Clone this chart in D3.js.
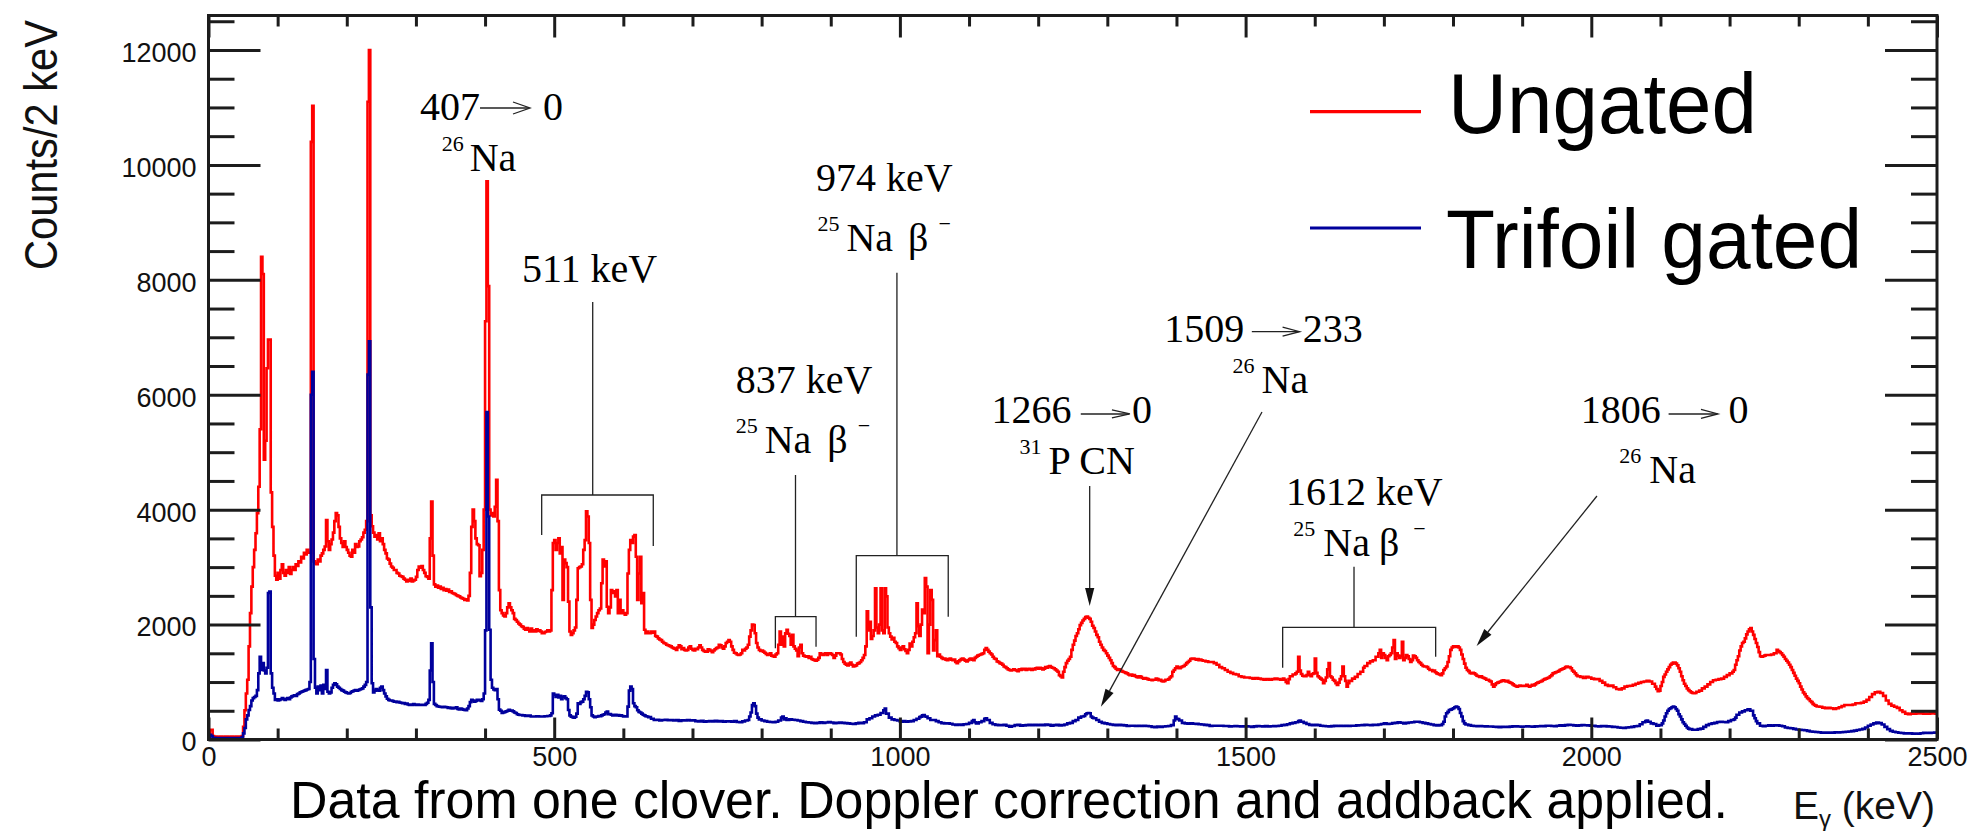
<!DOCTYPE html>
<html>
<head>
<meta charset="utf-8">
<script src="https://cdn.jsdelivr.net/npm/d3@7"></script>
<style>
  body { margin: 0; background: #fff; }
  svg { display: block; }
</style>
</head>
<body>
<svg id="chart" width="1972" height="831"></svg>
<script>
// Gamma-ray spectra, one clover detector, 2 keV bins: [bin low edge (keV), counts]
const ungated = [
[0,60],[2,160],[4,170],[6,60],[8,50],[12,45],[16,50],[20,45],[24,50],[28,45],[32,50],[36,45],[40,50],[44,45],[48,60],
[50,220],[52,510],[54,800],[56,1040],[58,1620],[60,2200],[62,2660],[64,3000],[66,3300],[68,3590],[70,3940],[72,4400],[74,5400],
[76,8400],[78,8100],[80,4870],[82,5200],[84,6460],[86,6960],[88,6960],[90,4300],[92,3700],[94,3200],[96,2850],[98,2780],
[100,2900],[102,2800],[104,2950],[106,3050],[108,2900],[110,2850],[112,2950],[114,2900],[116,3000],[118,2880],[120,2950],[122,3000],
[124,2950],[126,3050],[128,3020],[130,3100],[132,3080],[134,3180],[136,3150],[138,3250],[140,3220],[142,3300],[144,3250],[146,3250],
[148,10400],[150,11030],[152,3100],[154,3070],[156,3050],[158,3130],[160,3100],[162,3200],[164,3240],[166,3300],[168,3360],[170,3820],
[172,3450],[174,3300],[176,3400],[178,3480],[180,3600],[182,3800],[184,3940],[186,3900],[188,3700],[190,3500],[192,3420],[194,3350],
[196,3450],[198,3350],[200,3300],[202,3250],[204,3200],[206,3180],[208,3300],[210,3250],[212,3400],[214,3350],[216,3360],[218,3450],
[220,3480],[222,3520],[224,3600],[226,3650],[228,3800],[230,11100],[232,12000],[234,3900],[236,3710],[238,3600],[240,3530],[242,3560],
[244,3480],[246,3590],[248,3450],[250,3500],[252,3400],[254,3300],[256,3240],[258,3150],[260,3130],[262,3060],[264,3010],[266,2990],
[268,2950],[270,2950],[272,2900],[274,2890],[276,2850],[278,2840],[280,2830],[282,2800],[284,2780],[286,2750],[288,2780],[290,2760],
[292,2800],[294,2750],[296,2770],[298,2780],[300,2830],[302,2950],[304,3010],[306,2990],[308,3020],[310,2950],[312,2900],[314,2840],
[316,2830],[318,2800],[320,3500],[322,4140],[324,3200],[326,2700],[328,2660],[330,2680],[332,2640],[334,2660],[336,2620],[338,2640],
[340,2600],[342,2620],[344,2590],[346,2610],[348,2570],[350,2580],[352,2550],[354,2540],[356,2530],[358,2510],[360,2500],[362,2490],
[364,2470],[366,2460],[368,2450],[370,2430],[372,2440],[374,2420],[376,2500],[378,2900],[380,3700],[382,4000],[384,3800],[386,3500],
[388,3400],[390,3380],[392,2840],[394,2900],[396,3300],[398,4000],[400,7280],[402,9715],[404,7890],[406,4000],[408,3900],[410,3940],
[412,3880],[414,4050],[416,4520],[418,3800],[420,2600],[422,2250],[424,2200],[426,2160],[428,2140],[430,2200],[432,2300],[434,2370],
[436,2300],[438,2250],[440,2200],[442,2100],[444,2080],[446,2050],[448,2020],[450,2000],[452,1970],[454,1960],[456,1930],[458,1910],
[460,1940],[462,1910],[464,1880],[466,1930],[468,1880],[470,1900],[472,1880],[474,1920],[476,1890],[478,1900],[480,1880],[482,1850],
[484,1850],[486,1870],[488,1880],[490,1900],[492,1880],[494,1900],[496,2600],[498,3420],[500,3470],[502,3300],[504,3420],[506,3500],
[508,3240],[510,3350],[512,2430],[514,3130],[516,3070],[518,3000],[520,2400],[522,1880],[524,1820],[526,1850],[528,1900],[530,1950],
[532,2430],[534,2980],[536,3000],[538,3010],[540,3050],[542,3300],[544,3470],[546,3970],[548,3880],[550,3420],[552,2430],[554,1940],
[556,2000],[558,2080],[560,2140],[562,2200],[564,2250],[566,2280],[568,2720],[570,3130],[572,3010],[574,3100],[576,2310],[578,2200],
[580,2300],[582,2600],[584,2550],[586,2580],[588,2490],[590,2600],[592,2200],[594,2430],[596,2200],[598,2250],[600,2200],[602,2170],
[604,2200],[606,2890],[608,3300],[610,3470],[612,3420],[614,3530],[616,3560],[618,3180],[620,2430],[622,2890],[624,3180],[626,2370],
[628,2550],[630,1910],[632,1850],[634,1880],[636,1850],[638,1850],[640,1880],[642,1860],[644,1880],[646,1800],[648,1790],[650,1760],
[652,1740],[654,1730],[656,1700],[658,1680],[660,1670],[662,1650],[664,1640],[666,1630],[668,1620],[670,1600],[672,1590],[674,1580],
[676,1560],[678,1600],[680,1640],[682,1620],[684,1570],[686,1590],[688,1560],[690,1550],[692,1560],[694,1600],[696,1620],[698,1580],
[700,1560],[702,1550],[704,1580],[706,1570],[708,1600],[710,1640],[712,1600],[714,1560],[716,1540],[718,1530],[720,1530],[722,1570],
[724,1560],[726,1540],[728,1520],[730,1550],[732,1570],[734,1590],[736,1600],[738,1650],[740,1640],[742,1600],[744,1580],[746,1620],
[748,1680],[750,1700],[752,1730],[754,1700],[756,1620],[758,1560],[760,1510],[762,1500],[764,1480],[766,1470],[768,1480],[770,1500],
[772,1560],[774,1550],[776,1580],[778,1600],[780,1650],[782,1790],[784,1900],[786,2000],[788,1990],[790,1850],[792,1680],[794,1600],
[796,1560],[798,1540],[800,1550],[802,1530],[804,1510],[806,1490],[808,1470],[810,1480],[812,1500],[814,1460],[816,1450],[818,1440],
[820,1480],[822,1500],[824,1650],[826,1880],[828,1650],[830,1790],[832,1620],[834,1850],[836,1910],[838,1840],[840,1800],[842,1650],
[844,1820],[846,1620],[848,1580],[850,1550],[852,1450],[854,1600],[856,1650],[858,1500],[860,1460],[862,1450],[864,1440],[866,1450],
[868,1420],[870,1440],[872,1400],[874,1390],[876,1380],[878,1370],[880,1390],[882,1420],[884,1500],[886,1480],[888,1470],[890,1490],
[892,1500],[894,1470],[896,1500],[898,1500],[900,1490],[902,1470],[904,1420],[906,1460],[908,1500],[910,1500],[912,1500],[914,1480],
[916,1400],[918,1350],[920,1320],[922,1300],[924,1290],[926,1320],[928,1340],[930,1300],[932,1270],[934,1280],[936,1290],[938,1320],
[940,1330],[942,1350],[944,1380],[946,1420],[948,1470],[950,1620],[952,2230],[954,1900],[956,2050],[958,1750],[960,1800],[962,1900],
[964,2630],[966,1950],[968,1850],[970,2000],[972,2630],[974,1900],[976,1850],[978,2630],[980,2490],[982,1950],[984,1850],[986,1790],
[988,1740],[990,1770],[992,1700],[994,1680],[996,1620],[998,1590],[1000,1560],[1002,1600],[1004,1620],[1006,1570],[1008,1540],[1010,1500],
[1012,1560],[1014,1670],[1016,1620],[1018,1700],[1020,1780],[1022,1850],[1024,2370],[1026,1970],[1028,1800],[1030,2000],[1032,2260],
[1034,2200],[1036,2810],[1038,2660],[1040,1500],[1042,2000],[1044,2600],[1046,2430],[1048,1550],[1050,1730],[1052,1900],[1054,1450],
[1056,1480],[1058,1440],[1060,1420],[1062,1400],[1064,1410],[1066,1390],[1068,1380],[1070,1400],[1072,1410],[1074,1390],[1076,1380],
[1078,1390],[1080,1350],[1082,1330],[1084,1360],[1086,1380],[1088,1400],[1090,1410],[1092,1390],[1094,1370],[1096,1360],[1098,1380],
[1100,1400],[1102,1410],[1104,1390],[1106,1380],[1108,1420],[1110,1440],[1112,1460],[1114,1470],[1116,1480],[1118,1490],[1120,1500],
[1122,1560],[1124,1590],[1126,1560],[1128,1530],[1130,1500],[1132,1480],[1134,1440],[1136,1410],[1138,1400],[1140,1360],[1142,1350],
[1144,1330],[1146,1320],[1148,1300],[1150,1270],[1152,1260],[1154,1240],[1156,1220],[1158,1210],[1160,1200],[1162,1210],[1164,1220],
[1166,1210],[1168,1200],[1170,1190],[1172,1220],[1174,1210],[1176,1230],[1178,1220],[1180,1230],[1182,1210],[1184,1220],[1186,1230],
[1188,1220],[1190,1210],[1192,1230],[1194,1220],[1196,1240],[1198,1250],[1200,1230],[1202,1250],[1204,1240],[1206,1220],[1208,1230],
[1210,1260],[1212,1250],[1214,1270],[1216,1280],[1218,1260],[1220,1250],[1222,1240],[1224,1220],[1226,1200],[1228,1180],[1230,1120],
[1232,1100],[1234,1080],[1236,1180],[1238,1260],[1240,1330],[1242,1370],[1244,1400],[1246,1440],[1248,1560],[1250,1650],[1252,1720],
[1254,1800],[1256,1850],[1258,1920],[1260,1990],[1262,2030],[1264,2070],[1266,2100],[1268,2130],[1270,2140],[1272,2120],[1274,2100],
[1276,2050],[1278,1980],[1280,1940],[1282,1880],[1284,1820],[1286,1780],[1288,1700],[1290,1650],[1292,1600],[1294,1560],[1296,1540],
[1298,1500],[1300,1460],[1302,1420],[1304,1380],[1306,1330],[1308,1280],[1310,1260],[1312,1230],[1314,1210],[1316,1220],[1318,1210],
[1320,1190],[1322,1180],[1324,1170],[1326,1160],[1328,1150],[1330,1130],[1332,1120],[1334,1130],[1336,1110],[1338,1120],[1340,1100],
[1342,1090],[1344,1080],[1346,1100],[1348,1090],[1350,1070],[1352,1060],[1354,1070],[1356,1060],[1358,1050],[1360,1040],[1362,1040],
[1364,1030],[1366,1040],[1368,1040],[1370,1060],[1372,1050],[1374,1030],[1376,1040],[1378,1020],[1380,1010],[1382,1020],[1384,1040],
[1386,1040],[1388,1050],[1390,1080],[1392,1100],[1394,1180],[1396,1210],[1398,1240],[1400,1270],[1402,1250],[1404,1240],[1406,1260],
[1408,1270],[1410,1280],[1412,1300],[1414,1330],[1416,1350],[1418,1370],[1420,1400],[1422,1410],[1424,1410],[1426,1400],[1428,1390],
[1430,1400],[1432,1380],[1434,1390],[1436,1380],[1438,1370],[1440,1370],[1442,1360],[1444,1360],[1446,1350],[1448,1350],[1450,1350],
[1454,1330],[1458,1300],[1462,1260],[1466,1240],[1470,1210],[1474,1180],[1478,1160],[1482,1140],[1486,1130],[1490,1100],[1494,1090],
[1498,1080],[1502,1080],[1506,1070],[1510,1060],[1514,1070],[1518,1060],[1522,1050],[1526,1040],[1530,1050],[1534,1040],[1538,1050],
[1542,1060],[1546,1050],[1550,1040],[1554,1060],[1556,1040],[1558,1000],[1560,980],[1562,1050],[1564,1100],[1568,1130],[1572,1150],
[1574,1180],[1576,1440],[1578,1200],[1580,1140],[1582,1110],[1584,1100],[1588,1120],[1590,1180],[1592,1120],[1594,1100],[1596,1140],
[1598,1150],[1600,1410],[1602,1160],[1604,1100],[1606,1080],[1608,1060],[1610,1040],[1612,980],[1614,1020],[1616,1080],[1618,1220],
[1620,1330],[1622,1100],[1624,1080],[1626,1040],[1628,1020],[1630,980],[1632,950],[1634,990],[1636,1050],[1638,1100],[1640,1270],
[1642,1100],[1644,1020],[1646,920],[1648,980],[1650,1020],[1654,1060],[1658,1090],[1662,1140],[1666,1180],[1670,1250],[1672,1280],
[1676,1330],[1680,1360],[1684,1380],[1688,1440],[1692,1500],[1694,1560],[1696,1420],[1698,1500],[1700,1470],[1702,1420],[1704,1380],
[1706,1450],[1708,1470],[1710,1500],[1712,1600],[1714,1730],[1716,1400],[1718,1500],[1720,1460],[1722,1420],[1724,1450],[1726,1700],
[1728,1380],[1730,1420],[1732,1470],[1734,1450],[1736,1400],[1738,1350],[1740,1380],[1742,1460],[1744,1450],[1746,1420],[1748,1380],
[1750,1350],[1752,1330],[1754,1300],[1756,1280],[1758,1270],[1760,1270],[1762,1260],[1764,1230],[1766,1210],[1768,1210],[1770,1190],
[1772,1200],[1774,1170],[1776,1150],[1778,1140],[1780,1130],[1782,1120],[1784,1150],[1786,1210],[1788,1240],[1790,1270],[1792,1350],
[1794,1450],[1796,1560],[1798,1600],[1800,1620],[1802,1620],[1804,1610],[1806,1620],[1808,1600],[1810,1560],[1812,1480],[1814,1400],
[1816,1320],[1818,1250],[1820,1210],[1822,1190],[1824,1160],[1826,1150],[1828,1160],[1830,1150],[1832,1130],[1834,1110],[1836,1100],
[1838,1090],[1840,1100],[1842,1080],[1844,1070],[1846,1060],[1848,1040],[1850,1040],[1852,1020],[1854,1010],[1856,960],[1858,920],
[1860,950],[1862,980],[1864,990],[1866,1000],[1868,1010],[1870,1020],[1872,1030],[1874,1020],[1876,1010],[1878,1020],[1880,1000],
[1882,990],[1884,980],[1886,960],[1888,940],[1890,930],[1892,920],[1894,930],[1896,940],[1898,930],[1900,935],[1902,930],[1904,935],
[1906,950],[1908,930],[1910,920],[1912,935],[1914,950],[1916,940],[1918,960],[1920,980],[1922,990],[1924,1000],[1926,1010],[1928,1020],
[1930,1040],[1932,1050],[1934,1060],[1936,1070],[1938,1080],[1940,1100],[1942,1120],[1944,1150],[1946,1160],[1948,1170],[1950,1180],
[1952,1190],[1954,1210],[1956,1220],[1958,1230],[1960,1240],[1962,1260],[1964,1270],[1966,1260],[1968,1260],[1970,1240],[1972,1200],
[1974,1180],[1976,1150],[1978,1120],[1980,1100],[1984,1090],[1988,1070],[1992,1090],[1996,1080],[2000,1060],[2004,1050],[2008,1050],
[2012,1020],[2016,990],[2020,950],[2024,930],[2028,940],[2032,910],[2036,880],[2040,870],[2044,890],[2048,920],[2052,930],[2056,935],
[2060,950],[2064,970],[2068,985],[2072,1000],[2076,1010],[2080,1020],[2084,1010],[2088,970],[2092,920],[2094,880],[2096,840],[2098,850],
[2100,930],[2102,1000],[2104,1090],[2106,1130],[2108,1180],[2110,1220],[2112,1260],[2114,1300],[2116,1320],[2118,1340],[2120,1340],
[2122,1320],[2124,1290],[2126,1240],[2128,1180],[2130,1100],[2132,1030],[2134,970],[2136,930],[2138,890],[2140,860],[2142,840],
[2144,820],[2146,810],[2148,805],[2150,810],[2152,830],[2156,850],[2160,890],[2164,920],[2168,960],[2172,1000],[2176,1030],[2180,1040],
[2184,1050],[2188,1060],[2192,1090],[2196,1120],[2200,1150],[2204,1180],[2206,1210],[2208,1300],[2210,1380],[2212,1450],[2214,1550],
[2216,1620],[2218,1680],[2220,1700],[2222,1760],[2224,1830],[2226,1880],[2228,1920],[2230,1940],[2232,1880],[2234,1820],[2236,1750],
[2238,1680],[2240,1610],[2242,1520],[2244,1450],[2246,1440],[2248,1450],[2250,1460],[2252,1470],[2256,1470],[2260,1480],[2264,1500],
[2268,1560],[2270,1540],[2272,1520],[2274,1500],[2276,1470],[2278,1440],[2280,1400],[2282,1370],[2284,1340],[2286,1300],[2288,1260],
[2290,1210],[2292,1160],[2294,1110],[2296,1060],[2298,1020],[2300,980],[2302,920],[2304,870],[2306,820],[2308,790],[2310,750],
[2312,720],[2314,700],[2316,670],[2318,650],[2320,620],[2322,600],[2324,590],[2326,575],[2330,570],[2334,555],[2338,545],[2342,550],
[2346,545],[2350,530],[2354,545],[2358,560],[2362,580],[2366,600],[2370,600],[2374,600],[2378,610],[2382,630],[2386,630],[2390,640],
[2394,660],[2398,690],[2402,740],[2406,790],[2410,820],[2414,830],[2418,810],[2422,760],[2426,680],[2430,620],[2434,590],[2438,570],
[2442,550],[2446,510],[2450,480],[2454,450],[2458,440],[2462,450],[2470,455],[2480,450],[2490,455],[2498,450]
];

const trifoilGated = [
[0,40],[2,80],[4,60],[6,30],[10,25],[20,25],[30,25],[40,25],[48,40],[50,107],[52,200],[54,350],[56,420],[58,514],[60,580],[62,680],
[64,720],[66,740],[68,760],[70,860],[72,1150],[74,1440],[76,1210],[78,1330],[80,1200],[82,1150],[84,1250],[86,2550],[88,2575],[90,1150],
[92,900],[94,800],[96,690],[98,700],[100,680],[102,690],[104,700],[106,720],[108,700],[110,690],[112,710],[114,720],[116,700],[118,730],
[120,750],[122,760],[124,770],[126,760],[128,790],[130,800],[132,820],[134,830],[136,840],[138,850],[140,860],[142,870],[144,880],
[146,1000],[148,6000],[150,6400],[152,1400],[154,900],[156,800],[158,920],[160,860],[162,940],[164,800],[166,950],[168,880],[170,1210],
[172,830],[174,800],[176,820],[178,900],[180,950],[182,980],[184,960],[186,920],[188,900],[190,880],[192,860],[194,850],[196,830],
[198,820],[200,810],[202,800],[204,810],[206,830],[208,840],[210,850],[212,860],[214,850],[216,860],[218,870],[220,880],[222,890],
[224,920],[226,950],[228,1000],[230,6350],[232,6930],[234,2300],[236,980],[238,820],[240,850],[242,880],[244,860],[246,850],[248,900],
[250,920],[252,860],[254,800],[256,750],[258,710],[260,690],[262,680],[264,680],[266,670],[268,660],[270,660],[272,650],[274,655],
[276,645],[278,640],[280,630],[282,635],[284,620],[286,625],[288,610],[290,600],[292,610],[294,600],[296,615],[298,610],[300,600],
[302,610],[304,600],[306,605],[308,600],[310,605],[312,600],[314,620],[316,640],[318,690],[320,1200],[322,1675],[324,1000],[326,620],
[328,600],[330,580],[332,575],[334,570],[336,565],[338,560],[340,570],[342,565],[344,560],[346,550],[348,555],[350,545],[352,540],
[354,550],[356,545],[358,560],[360,530],[362,525],[364,540],[366,530],[368,520],[370,515],[372,510],[374,540],[376,580],[378,650],
[380,690],[382,680],[384,660],[386,670],[388,690],[390,690],[392,680],[394,670],[396,700],[398,800],[400,1900],[402,5700],[404,3880],
[406,1910],[408,1040],[410,900],[412,870],[414,860],[416,880],[418,700],[420,520],[422,500],[424,460],[426,470],[428,480],[430,490],
[432,500],[434,515],[436,500],[438,505],[440,490],[442,470],[444,460],[446,440],[448,430],[450,427],[454,420],[458,410],[462,415],
[466,400],[470,400],[474,405],[478,400],[482,400],[486,405],[490,410],[494,420],[496,456],[498,800],[500,780],[502,740],[504,780],
[506,730],[508,760],[510,700],[512,740],[514,750],[516,720],[518,700],[520,514],[522,420],[524,398],[526,390],[528,380],[530,395],
[532,450],[534,630],[536,620],[538,650],[540,660],[542,700],[544,760],[546,830],[548,820],[550,700],[552,560],[554,420],[556,400],
[558,390],[560,395],[562,400],[564,410],[566,405],[568,420],[570,430],[572,440],[574,470],[576,485],[578,440],[580,443],[582,430],
[584,420],[586,425],[588,430],[590,420],[592,425],[594,415],[596,420],[598,410],[600,400],[602,405],[604,400],[606,572],[608,850],
[610,920],[612,880],[614,630],[616,580],[618,560],[620,510],[622,480],[624,470],[626,450],[628,430],[630,420],[632,405],[634,400],
[636,390],[640,360],[644,340],[648,345],[652,330],[656,340],[660,345],[664,335],[668,340],[672,330],[676,338],[680,325],[684,335],
[688,330],[692,340],[696,330],[700,335],[704,320],[708,315],[712,325],[716,310],[720,315],[724,320],[728,315],[732,325],[736,315],
[740,320],[744,310],[748,318],[752,315],[756,310],[760,320],[764,305],[768,300],[772,315],[776,330],[780,340],[782,400],[784,470],
[786,600],[788,630],[790,580],[792,450],[794,380],[796,350],[800,330],[804,320],[808,310],[812,305],[816,300],[820,310],[824,330],
[828,380],[830,398],[832,350],[834,370],[836,340],[840,350],[844,345],[848,340],[852,330],[856,320],[860,310],[864,300],[868,295],
[872,290],[876,282],[880,290],[884,300],[888,290],[892,295],[896,305],[900,295],[904,285],[908,290],[912,295],[916,290],[920,285],
[924,280],[928,275],[932,270],[936,280],[940,290],[944,285],[948,300],[952,350],[956,370],[960,400],[964,420],[968,430],[972,460],
[976,510],[978,540],[980,450],[984,380],[988,350],[992,340],[996,330],[1000,310],[1004,320],[1008,310],[1012,315],[1016,320],[1020,340],
[1024,360],[1028,390],[1030,398],[1032,420],[1034,427],[1036,400],[1038,398],[1040,370],[1044,340],[1048,340],[1052,320],[1056,300],
[1060,285],[1064,280],[1068,280],[1072,275],[1076,260],[1080,255],[1084,260],[1088,255],[1092,265],[1096,270],[1100,290],[1104,320],
[1106,340],[1108,300],[1110,280],[1114,300],[1118,320],[1122,360],[1124,369],[1126,340],[1130,290],[1134,265],[1138,255],[1142,250],
[1146,250],[1150,255],[1154,240],[1158,224],[1162,235],[1166,250],[1170,255],[1174,240],[1178,245],[1182,250],[1186,255],[1190,250],
[1194,255],[1198,250],[1202,255],[1206,250],[1210,260],[1214,255],[1218,240],[1222,250],[1226,255],[1230,245],[1234,250],[1238,260],
[1242,280],[1246,290],[1250,320],[1254,340],[1258,380],[1262,400],[1266,410],[1268,440],[1270,456],[1272,460],[1274,456],[1276,400],
[1278,380],[1280,370],[1284,340],[1288,310],[1292,290],[1296,280],[1300,270],[1304,260],[1308,255],[1312,250],[1316,255],[1320,250],
[1324,245],[1328,235],[1332,238],[1336,240],[1340,235],[1344,240],[1348,235],[1352,240],[1356,235],[1360,230],[1364,220],[1368,215],
[1372,225],[1376,220],[1380,225],[1384,230],[1388,235],[1392,250],[1396,330],[1398,398],[1400,360],[1402,355],[1404,330],[1408,290],
[1412,280],[1416,275],[1420,280],[1424,275],[1428,272],[1432,265],[1436,260],[1440,255],[1444,250],[1448,235],[1452,240],[1456,240],
[1460,238],[1464,240],[1468,235],[1472,235],[1476,228],[1480,230],[1484,235],[1488,230],[1492,225],[1496,228],[1500,230],[1504,225],
[1508,220],[1512,228],[1516,235],[1520,230],[1524,228],[1528,232],[1532,226],[1536,230],[1540,232],[1544,235],[1548,240],[1552,250],
[1556,255],[1560,265],[1564,280],[1568,290],[1572,300],[1576,320],[1578,328],[1580,310],[1584,290],[1588,270],[1592,255],[1596,250],
[1600,255],[1604,250],[1608,240],[1612,235],[1616,230],[1620,228],[1624,232],[1628,240],[1632,236],[1636,238],[1640,235],[1644,240],
[1648,235],[1652,238],[1656,240],[1660,245],[1664,248],[1668,250],[1672,255],[1676,252],[1680,250],[1684,255],[1688,252],[1692,260],
[1696,270],[1700,280],[1704,270],[1708,275],[1712,285],[1716,290],[1720,300],[1724,292],[1728,280],[1732,290],[1736,295],[1740,300],
[1744,310],[1748,310],[1752,300],[1756,290],[1760,280],[1764,270],[1768,260],[1772,250],[1776,245],[1780,250],[1784,270],[1786,310],
[1788,400],[1790,456],[1792,480],[1794,514],[1796,520],[1798,530],[1800,543],[1802,560],[1804,572],[1806,560],[1808,530],[1810,460],
[1812,400],[1814,320],[1816,280],[1818,260],[1822,250],[1826,240],[1830,235],[1834,232],[1838,235],[1842,230],[1846,228],[1850,225],
[1854,226],[1858,222],[1862,220],[1866,215],[1870,222],[1874,218],[1878,220],[1882,224],[1886,230],[1890,228],[1894,225],[1898,222],
[1902,226],[1906,230],[1910,225],[1914,222],[1918,228],[1922,230],[1926,235],[1930,232],[1934,238],[1938,240],[1942,236],[1946,232],
[1950,238],[1954,245],[1958,242],[1962,250],[1966,255],[1970,253],[1974,245],[1978,240],[1982,245],[1986,250],[1990,248],[1994,246],
[1998,240],[2002,238],[2006,230],[2010,225],[2014,232],[2018,235],[2022,228],[2026,225],[2030,220],[2034,218],[2038,210],[2042,205],
[2046,200],[2050,208],[2054,212],[2058,220],[2062,230],[2066,235],[2070,265],[2074,300],[2078,320],[2080,328],[2082,310],[2086,280],
[2090,270],[2094,240],[2098,250],[2102,280],[2104,330],[2106,400],[2108,456],[2110,500],[2112,530],[2114,543],[2116,560],[2118,572],
[2120,560],[2122,530],[2124,500],[2126,440],[2128,400],[2130,350],[2132,300],[2134,270],[2136,240],[2138,210],[2140,190],[2142,180],
[2146,170],[2150,170],[2154,180],[2158,190],[2162,220],[2166,250],[2170,270],[2174,280],[2178,290],[2182,305],[2186,310],[2190,305],
[2194,300],[2198,320],[2202,340],[2206,350],[2208,380],[2210,430],[2214,470],[2218,490],[2222,510],[2226,525],[2230,500],[2234,420],
[2236,370],[2238,320],[2240,280],[2244,240],[2248,230],[2252,238],[2256,245],[2260,240],[2264,248],[2268,245],[2272,240],[2276,230],
[2280,210],[2284,200],[2288,195],[2292,185],[2296,175],[2300,170],[2304,165],[2308,160],[2312,150],[2316,140],[2320,135],[2324,130],
[2328,125],[2332,120],[2336,119],[2340,120],[2344,118],[2348,120],[2352,125],[2356,122],[2360,125],[2364,130],[2368,135],[2372,140],
[2376,145],[2380,155],[2384,165],[2388,175],[2392,185],[2396,210],[2400,240],[2404,260],[2408,280],[2412,293],[2416,285],[2420,260],
[2424,220],[2428,180],[2432,150],[2436,135],[2440,125],[2444,118],[2448,112],[2452,107],[2456,105],[2460,107],[2464,102],[2468,105],
[2472,100],[2476,110],[2480,115],[2484,112],[2488,115],[2492,118],[2496,120],[2498,120]
];

const seriesNames = ["Ungated", "Trifoil gated"];
const xMajorTicks = [0, 500, 1000, 1500, 2000, 2500];
const yMajorTicks = [0, 2000, 4000, 6000, 8000, 10000, 12000];
const xRange = [0, 2500];
const yRange = [0, 12600];

// Peak labels placed in data units (energy keV, counts)
const peakLabels = [
  {e: 305.9, c: 10781, parts: [{t: "407"}]},
  {e: 483.8, c: 10781, parts: [{t: "0"}]},
  {e: 337.3, c: 9899, parts: [{t: "26", sup: 1}, {t: "Na", dx: 6}]},
  {e: 453.4, c: 7967, parts: [{t: "511 keV"}]},
  {e: 878.7, c: 9551, parts: [{t: "974 keV"}]},
  {e: 880.7, c: 8507, parts: [{t: "25", sup: 1}, {t: "Na", dx: 7}, {t: "β", dx: 15}, {t: "−", sup: 1, dx: 10}]},
  {e: 762.5, c: 6025, parts: [{t: "837 keV"}]},
  {e: 762.5, c: 4981, parts: [{t: "25", sup: 1}, {t: "Na", dx: 7}, {t: "β", dx: 16}, {t: "−", sup: 1, dx: 10}]},
  {e: 1132.5, c: 5503, parts: [{t: "1266"}]},
  {e: 1335.7, c: 5503, parts: [{t: "0"}]},
  {e: 1173.1, c: 4620, parts: [{t: "31", sup: 1}, {t: "P CN", dx: 7}]},
  {e: 1382.4, c: 6923, parts: [{t: "1509"}]},
  {e: 1582.5, c: 6923, parts: [{t: "233"}]},
  {e: 1481.2, c: 6035, parts: [{t: "26", sup: 1}, {t: "Na", dx: 7}]},
  {e: 1558.4, c: 4081, parts: [{t: "1612 keV"}]},
  {e: 1569.0, c: 3193, parts: [{t: "25", sup: 1}, {t: "Na", dx: 8}, {t: "β", dx: 9}, {t: "−", sup: 1, dx: 14}]},
  {e: 1984.6, c: 5503, parts: [{t: "1806"}]},
  {e: 2198.6, c: 5503, parts: [{t: "0"}]},
  {e: 2040.5, c: 4459, parts: [{t: "26", sup: 1}, {t: "Na", dx: 8}]}
];

// Level-transition arrows inside the labels (start/end energy, height)
const transitionArrows = [
  {e1: 392.7, e2: 465.0, c: 10990, head: 17, half: 6},
  {e1: 1261.6, e2: 1332.7, c: 5665, head: 18, half: 4},
  {e1: 1509.0, e2: 1578.1, c: 7097, head: 17, half: 4.5},
  {e1: 2111.8, e2: 2183.2, c: 5665, head: 17, half: 4.5}
];

// Brackets grouping multiplets
const brackets = [
  {stem: 555.7, top: 7614, bar: 4255, left: 481.9, right: 643.3, leftEnd: 3559, rightEnd: 3367},
  {stem: 995.7, top: 8124, bar: 3199, left: 936.9, right: 1069.9, leftEnd: 1789, rightEnd: 2137},
  {stem: 849.0, top: 4603, bar: 2137, left: 819.9, right: 878.7, leftEnd: 1587, rightEnd: 1615},
  {stem: 1656.8, top: 3007, bar: 1953, left: 1553.6, right: 1774.9, leftEnd: 1250, rightEnd: 1441}
];

// Pointer arrows to single peaks
const pointers = [
  {from: [1274.5, 4412], to: [1274.5, 2323]},
  {from: [1523.7, 5700], to: [1290.7, 571]},
  {from: [2008.2, 4238], to: [1834.1, 1627]}
];

const svg = d3.select("#chart");
const W = 1972, H = 831;
const frame = {left: 208.5, right: 1937, top: 15.5, bottom: 739.5};

const x = d3.scaleLinear().domain(xRange).range([frame.left, frame.right]);
const y = d3.scaleLinear().domain(yRange).range([frame.bottom, frame.top]);

const axisColor = "#1c1c1c";
const sansFont = "'Liberation Sans', Arial, Helvetica, sans-serif";
const serifFont = "'Liberation Serif', 'Times New Roman', serif";

svg.append("rect").attr("width", W).attr("height", H).attr("fill", "#fff");

// Histograms
const line = d3.line()
  .x(d => x(d[0]))
  .y(d => y(d[1]))
  .curve(d3.curveStepAfter);

function withEnd(data) {
  return data.concat([[xRange[1], data[data.length - 1][1]]]);
}

const plot = svg.append("g");
plot.append("path")
  .datum(withEnd(ungated))
  .attr("d", line)
  .attr("fill", "none")
  .attr("stroke", "#ff0000")
  .attr("stroke-width", 2.6)
  .attr("stroke-linejoin", "miter");

plot.append("path")
  .datum(withEnd(trifoilGated))
  .attr("d", line)
  .attr("fill", "none")
  .attr("stroke", "#00009c")
  .attr("stroke-width", 2.6)
  .attr("stroke-linejoin", "miter");

// Axes: ticks point inward on all four sides
const xMinor = d3.range(0, 2501, 100).filter(v => v % 500 !== 0);
const yMinor = d3.range(0, 12601, 500).filter(v => v % 2000 !== 0);

function styleAxis(g) {
  g.select(".domain").remove();
  g.selectAll(".tick line").attr("stroke", axisColor).attr("stroke-width", 3);
  g.selectAll("text").attr("fill", "#111").attr("font-family", sansFont).attr("font-size", 27);
}

svg.append("g").attr("transform", `translate(0,${frame.bottom})`)
  .call(d3.axisBottom(x).tickValues(xMajorTicks).tickSize(-22).tickPadding(7).tickFormat(d3.format("d")))
  .call(styleAxis);
svg.append("g").attr("transform", `translate(0,${frame.bottom})`)
  .call(d3.axisBottom(x).tickValues(xMinor).tickSize(-11).tickFormat(""))
  .call(styleAxis);
svg.append("g").attr("transform", `translate(0,${frame.top})`)
  .call(d3.axisTop(x).tickValues(xMajorTicks).tickSize(-22).tickFormat(""))
  .call(styleAxis);
svg.append("g").attr("transform", `translate(0,${frame.top})`)
  .call(d3.axisTop(x).tickValues(xMinor).tickSize(-11).tickFormat(""))
  .call(styleAxis);

const yAxisG = svg.append("g").attr("transform", `translate(${frame.left},0)`)
  .call(d3.axisLeft(y).tickValues(yMajorTicks).tickSize(-52).tickPadding(12).tickFormat(d3.format("d")))
  .call(styleAxis);
yAxisG.selectAll("text").attr("dy", "0.42em");
svg.append("g").attr("transform", `translate(${frame.left},0)`)
  .call(d3.axisLeft(y).tickValues(yMinor).tickSize(-26).tickFormat(""))
  .call(styleAxis);
svg.append("g").attr("transform", `translate(${frame.right},0)`)
  .call(d3.axisRight(y).tickValues(yMajorTicks).tickSize(-52).tickFormat(""))
  .call(styleAxis);
svg.append("g").attr("transform", `translate(${frame.right},0)`)
  .call(d3.axisRight(y).tickValues(yMinor).tickSize(-26).tickFormat(""))
  .call(styleAxis);

// Frame
svg.append("rect")
  .attr("x", frame.left).attr("y", frame.top)
  .attr("width", frame.right - frame.left).attr("height", frame.bottom - frame.top)
  .attr("fill", "none").attr("stroke", axisColor).attr("stroke-width", 3);

// Y axis title: reads bottom-to-top from y=270 to y=20, condensed to a 250 px run
const yTitle = svg.append("text")
  .attr("font-family", sansFont).attr("font-size", 47).attr("fill", "#111")
  .text("Counts/2 keV");
const yTitleLen = yTitle.node().getComputedTextLength();
yTitle.attr("transform", `translate(57,270) rotate(-90) scale(${250 / yTitleLen},1)`);

const xTitle = svg.append("text")
  .attr("x", 1935).attr("y", 819)
  .attr("text-anchor", "end")
  .attr("font-family", sansFont).attr("font-size", 39).attr("fill", "#111");
xTitle.append("tspan").text("E");
xTitle.append("tspan").attr("font-size", 24).attr("dy", 8).text("γ");
xTitle.append("tspan").attr("dy", -8).text(" (keV)");

svg.append("text")
  .attr("x", 290).attr("y", 818)
  .attr("font-family", sansFont).attr("font-size", 51).attr("fill", "#000")
  .attr("textLength", 1438).attr("lengthAdjust", "spacingAndGlyphs")
  .text("Data from one clover. Doppler correction and addback applied.");

// Legend
const legend = svg.append("g");
const legendRows = [
  {name: seriesNames[0], color: "#ff0000", lineY: 111.7, textY: 133.3, size: 86, len: 309, tx: 1448},
  {name: seriesNames[1], color: "#00009c", lineY: 228, textY: 268.3, size: 84, len: 416, tx: 1446}
];
legendRows.forEach(r => {
  legend.append("line")
    .attr("x1", 1310).attr("x2", 1421).attr("y1", r.lineY).attr("y2", r.lineY)
    .attr("stroke", r.color).attr("stroke-width", 3.2);
  legend.append("text")
    .attr("x", r.tx).attr("y", r.textY)
    .attr("font-family", sansFont).attr("font-size", r.size).attr("fill", "#000")
    .attr("textLength", r.len).attr("lengthAdjust", "spacingAndGlyphs")
    .text(r.name);
});

// Peak annotations
const ann = svg.append("g").attr("fill", "#000").attr("font-family", serifFont);
peakLabels.forEach(l => {
  const t = ann.append("text")
    .attr("x", x(l.e)).attr("y", y(l.c))
    .attr("font-size", 40);
  let raised = false;
  l.parts.forEach(p => {
    const s = t.append("tspan").text(p.t);
    let dy = 0;
    if (p.sup && !raised) { dy = -20; raised = true; }
    else if (!p.sup && raised) { dy = 20; raised = false; }
    if (dy) s.attr("dy", dy);
    if (p.dx) s.attr("dx", p.dx);
    s.attr("font-size", p.sup ? 22 : 40);
  });
});

const annStroke = "#222";
transitionArrows.forEach(a => {
  const x1 = x(a.e1), x2 = x(a.e2), yy = y(a.c);
  ann.append("line")
    .attr("x1", x1).attr("x2", x2 - 1).attr("y1", yy).attr("y2", yy)
    .attr("stroke", annStroke).attr("stroke-width", 1.3);
  ann.append("path")
    .attr("d", `M${x2 - a.head},${yy - a.half}L${x2},${yy}L${x2 - a.head},${yy + a.half}`)
    .attr("fill", "none").attr("stroke", annStroke).attr("stroke-width", 1.3);
});

brackets.forEach(b => {
  const p = d3.path();
  p.moveTo(x(b.stem), y(b.top)); p.lineTo(x(b.stem), y(b.bar));
  p.moveTo(x(b.left), y(b.leftEnd)); p.lineTo(x(b.left), y(b.bar));
  p.lineTo(x(b.right), y(b.bar)); p.lineTo(x(b.right), y(b.rightEnd));
  ann.append("path").attr("d", p.toString())
    .attr("fill", "none").attr("stroke", annStroke).attr("stroke-width", 1.3);
});

pointers.forEach(pt => {
  const x1 = x(pt.from[0]), y1 = y(pt.from[1]);
  const x2 = x(pt.to[0]), y2 = y(pt.to[1]);
  const ang = Math.atan2(y2 - y1, x2 - x1);
  const len = 18, half = 4.6;
  const bx = x2 - len * Math.cos(ang), by = y2 - len * Math.sin(ang);
  const nx = -Math.sin(ang) * half, ny = Math.cos(ang) * half;
  ann.append("line")
    .attr("x1", x1).attr("y1", y1).attr("x2", bx).attr("y2", by)
    .attr("stroke", annStroke).attr("stroke-width", 1.3);
  ann.append("path")
    .attr("d", `M${x2},${y2}L${bx + nx},${by + ny}L${bx - nx},${by - ny}Z`)
    .attr("fill", "#111").attr("stroke", "none");
});
</script>
</body>
</html>
